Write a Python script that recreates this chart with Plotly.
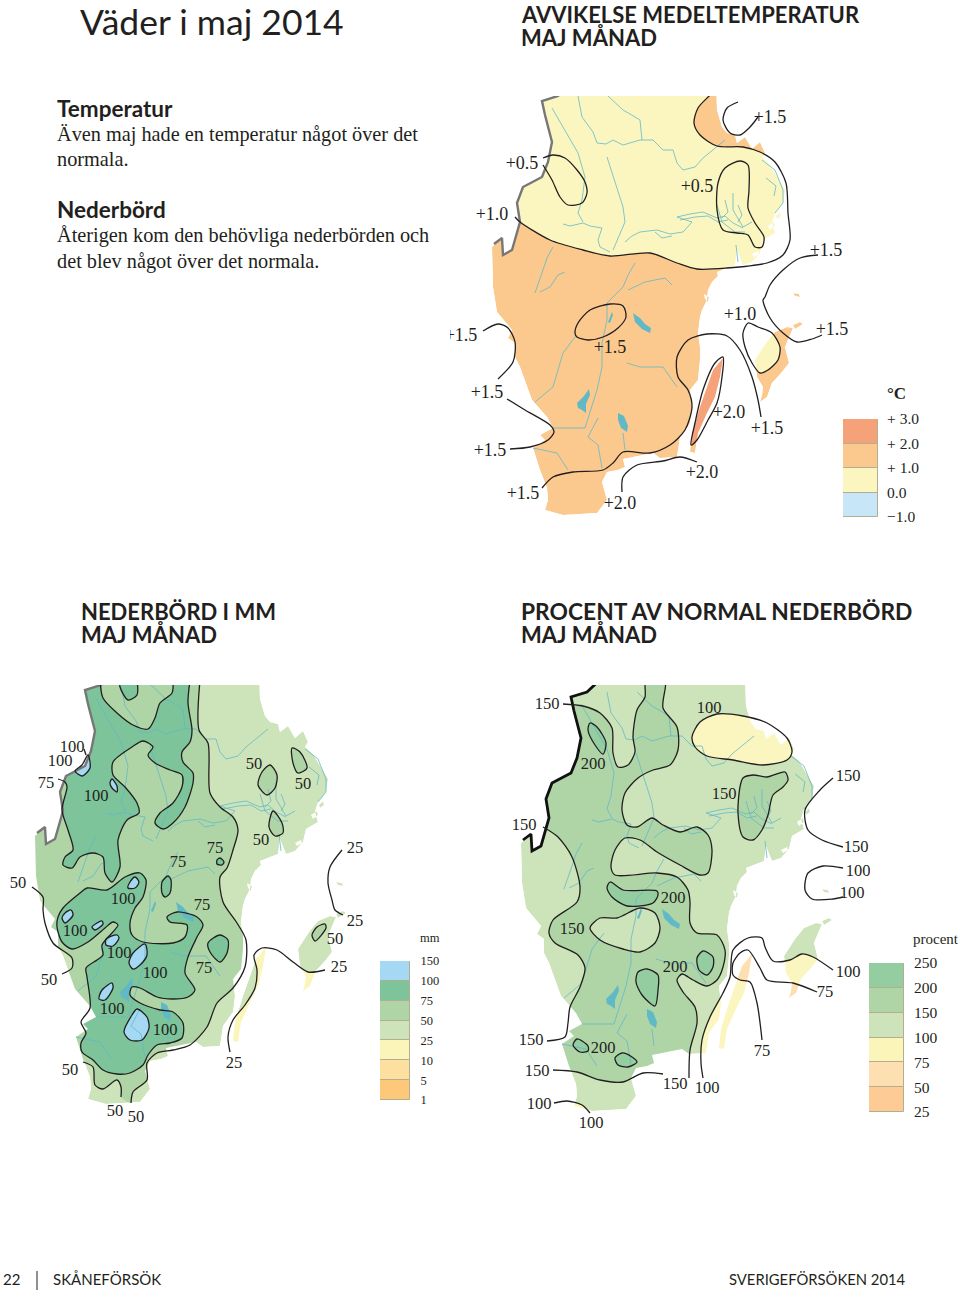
"""Väder i maj 2014: three maps of southern Sweden, temperature and rain."""

import plotly.graph_objects as go

W, H = 960, 1293

# colours
SALMON = "#F5A27A"
ORANGE = "#FBC98E"
YELLOW = "#FBF6C0"
SKY = "#C7E6F7"
BASE_GREEN = "#CDE4BB"
MID_GREEN = "#AFD5A6"
DARK_GREEN = "#7DC49A"
SOFT_GREEN = "#93CDA0"
BLUE = "#A5D8F2"
PEACH = "#FDDFB2"
RIVER = "#62B9C6"
INK = "#231F20"
BORDER_GREY = "#777777"

# geography, traced in the pixel frame of the top map
LAND = [(575, 80), (716, 80), (717, 110), (722, 127), (727, 133), (735, 135), (737, 143), (745, 137),
        (752, 149), (760, 142), (765, 153), (762, 158), (770, 165), (778, 178), (785, 190), (783, 203),
        (775, 213), (772, 223), (775, 233), (763, 240), (760, 253), (752, 262), (743, 265), (737, 250),
        (735, 265), (717, 272), (718, 276), (712, 282), (708, 290), (707, 300), (702, 310), (700, 317),
        (698, 333), (700, 347), (700, 360), (698, 380), (690, 390), (692, 407), (690, 423), (680, 437),
        (677, 457), (660, 458), (653, 453), (623, 459), (625, 467), (618, 470), (607, 472), (602, 482),
        (607, 500), (597, 513), (563, 515), (545, 510), (548, 500), (547, 488), (540, 470), (533, 448),
        (545, 440), (540, 435), (553, 428), (547, 417), (532, 400), (520, 367), (515, 357), (515, 343),
        (508, 338), (512, 330), (505, 322), (497, 312), (493, 287), (492, 247), (502, 238), (503, 255),
        (512, 250), (520, 222), (517, 203), (523, 187), (542, 177), (548, 162), (552, 142), (545, 115),
        (542, 101), (558, 96)]
GOTLAND = [(787, 327), (793, 328), (790, 335), (785, 347), (789, 363), (782, 372), (772, 383), (767, 397),
           (760, 402), (762, 395), (763, 387), (757, 377), (755, 360), (766, 343), (775, 332)]
FARO = [(793, 325), (800, 322), (803, 324), (795, 329)]
OLAND = [(723, 358), (720, 377), (715, 397), (707, 413), (698, 433), (695, 453), (690, 452), (692, 433),
         (700, 407), (707, 387), (713, 370)]
ISLETS = [
    [(793, 293), (799, 294), (800, 297), (795, 296)],
    [(752, 254), (758, 251), (759, 254), (754, 257)],
    [(768, 226), (774, 222), (775, 226), (770, 230)],
    [(776, 216), (780, 212), (781, 216), (777, 219)],
    [(704, 294), (709, 297), (708, 302), (705, 299)],
]
BORDER = [(575, 80), (558, 96), (542, 101), (545, 115), (552, 142), (548, 162), (542, 177), (523, 187),
          (517, 203), (520, 222), (512, 250), (503, 255), (502, 238), (494, 244)]
RIVERS = [
    [(552, 108), (563, 127), (578, 153), (585, 177), (582, 200), (578, 213), (583, 222)],
    [(563, 224), (570, 226), (583, 223), (590, 226), (602, 228), (598, 240), (600, 247), (610, 252)],
    [(578, 96), (582, 117), (593, 132), (597, 143), (606, 144), (613, 140), (623, 145), (640, 140), (653, 140),
     (663, 150), (673, 150), (677, 163), (683, 170), (695, 167), (703, 158), (713, 150), (725, 140)],
    [(608, 96), (623, 110), (630, 114), (640, 120), (642, 140)],
    [(607, 157), (617, 187), (623, 207), (625, 222), (619, 236), (613, 250)],
    [(677, 217), (690, 214), (703, 212), (717, 218), (725, 216), (733, 223), (743, 228)],
    [(680, 220), (695, 217), (708, 216), (718, 222), (728, 220)],
    [(733, 193), (733, 210), (743, 227), (752, 222)],
    [(717, 205), (722, 222), (735, 232), (745, 232)],
    [(725, 200), (728, 212), (722, 218)],
    [(738, 205), (742, 215), (738, 222)],
    [(625, 242), (632, 236), (640, 232), (657, 230), (670, 234), (683, 232), (692, 222), (677, 217)],
    [(655, 232), (662, 238), (672, 236)],
    [(762, 160), (775, 170), (783, 190), (783, 203), (775, 213)],
    [(766, 178), (776, 186), (774, 196)],
    [(736, 245), (738, 262)],
    [(553, 247), (547, 258), (543, 270), (535, 293)],
    [(565, 272), (558, 275), (550, 287), (540, 292)],
    [(635, 263), (628, 275), (623, 287), (607, 303), (607, 320), (602, 343), (602, 367), (597, 390), (585, 428), (553, 428)],
    [(628, 290), (645, 282), (665, 278), (672, 285)],
    [(575, 337), (563, 353), (553, 387), (535, 402)],
    [(627, 363), (640, 367), (663, 367), (677, 387)],
    [(598, 418), (588, 437), (598, 445), (602, 468)],
    [(533, 448), (557, 453), (568, 470)],
    [(623, 433), (625, 450)],
]
LAKES = [
    [(633, 313), (640, 318), (645, 324), (651, 328), (650, 333), (642, 329), (635, 322)],
    [(618, 413), (624, 416), (628, 426), (627, 432), (621, 428), (618, 420)],
    [(577, 403), (584, 396), (589, 389), (590, 395), (586, 404), (586, 413), (582, 410), (578, 408)],
    [(608, 322), (612, 312), (613, 315), (610, 323)],
]

# top map, mean temperature deviation
T_10_NORTH = [(515, 217), (520, 222), (550, 240), (583, 250), (610, 256), (650, 253), (677, 263), (697, 269),
              (727, 268), (767, 263), (783, 255), (790, 240), (788, 213), (786, 183), (775, 162), (760, 152),
              (743, 147), (717, 146), (700, 135), (694, 123), (698, 108), (709, 96), (716, 88)]
T_05_WEST = [(543, 158), (553, 155), (565, 158), (577, 170), (585, 182), (587, 193), (582, 203), (568, 205),
             (560, 197), (552, 180), (543, 165)]
T_05_EAST = [(740, 161), (748, 165), (749, 190), (748, 208), (755, 223), (764, 237), (762, 247), (755, 247),
             (748, 235), (737, 233), (723, 230), (717, 210), (718, 183), (725, 168)]
T_15_NE = [(738, 102), (727, 108), (723, 120), (730, 133), (740, 135), (750, 127), (758, 117)]
T_15_EAST = [(818, 255), (800, 258), (783, 270), (770, 285), (765, 297), (763, 300), (770, 318), (783, 333),
             (797, 342), (812, 339), (822, 335)]
T_10_GOTLAND = [(748, 323), (758, 327), (772, 333), (780, 347), (778, 360), (768, 370), (760, 373), (752, 363),
                (745, 347), (743, 333)]
T_15_LOOP = [(575, 333), (578, 323), (590, 310), (610, 304), (623, 306), (626, 317), (618, 328), (603, 337),
             (588, 340), (577, 337)]
T_15_WEST = [(483, 331), (498, 324), (508, 328), (515, 342), (513, 362), (498, 379)]
T_15_SW = [(507, 399), (525, 410), (550, 425), (554, 432), (548, 440), (530, 447), (510, 449)]
T_20_MAIN = [(542, 488), (553, 477), (573, 472), (603, 470), (613, 463), (623, 452), (650, 453), (670, 445),
             (685, 430), (692, 407), (688, 390), (678, 377), (677, 357), (688, 340), (707, 334), (727, 336),
             (740, 350), (752, 377), (758, 400), (761, 417)]
T_20_OLAND = [(723, 357), (715, 363), (703, 390), (695, 423), (691, 445), (697, 440), (708, 420), (717, 403),
              (722, 377)]
T_20_SOUTH = [(622, 492), (623, 477), (637, 465), (663, 461), (680, 457), (697, 462)]
T_LABELS = ["+0.5", "+0.5", "+1.0", "+1.5", "+1.5", "+1.5", "+1.5", "+1.0", "+1.5", "+1.5", "+2.0", "+1.5",
            "+1.5", "+2.0", "+1.5", "+2.0"]
T_LABEL_X = [522, 697, 492, 770, 826, 461, 610, 740, 832, 487, 729, 767, 490, 702, 523, 620]
T_LABEL_Y = [163, 186, 214, 117, 250, 335, 347, 314, 329, 392, 412, 428, 450, 472, 493, 503]

# left map, rain in mm
R_50_EAST = [(200, 680), (199, 730), (208, 743), (210, 793), (220, 807), (233, 817), (238, 830), (233, 850),
             (227, 868), (220, 877), (223, 902), (237, 923), (246, 940), (245, 967), (233, 988), (217, 1003),
             (207, 1027), (190, 1045), (173, 1050), (157, 1053), (147, 1063), (147, 1080), (133, 1092), (131, 1103)]
R_50_WEST = [(32, 887), (43, 897), (43, 910), (45, 923), (53, 943), (72, 958), (72, 968), (62, 974)]
R_50_SOUTH = [(83, 1062), (93, 1067), (95, 1085), (103, 1089), (117, 1080), (121, 1087), (121, 1097)]
R_75_NORTH = [(190, 680), (188, 703), (192, 730), (190, 742), (182, 752), (183, 762), (193, 773), (193, 783),
              (185, 807), (173, 823), (163, 829), (155, 823), (160, 813), (173, 803), (182, 787), (182, 775),
              (170, 770), (155, 763), (148, 755), (153, 747), (143, 741), (132, 747), (113, 762), (113, 775),
              (125, 787), (137, 803), (139, 813), (127, 820), (118, 840), (120, 867), (112, 882), (105, 873),
              (103, 857), (93, 853), (80, 857), (72, 868), (63, 865), (65, 857), (73, 850), (68, 830),
              (62, 810), (67, 787), (65, 782), (58, 779)]
R_75_TOPLOBE = [(100, 680), (103, 698), (117, 713), (133, 725), (148, 729), (155, 718), (160, 703), (172, 693),
                (173, 680)]
R_100_TOP = [(120, 680), (120, 687), (128, 700), (137, 695), (137, 680)]
R_75_SOUTH = [(63, 908), (80, 893), (87, 888), (107, 890), (125, 877), (140, 873), (146, 880), (143, 897),
              (135, 908), (130, 923), (132, 935), (143, 942), (173, 943), (185, 937), (187, 925), (170, 922),
              (167, 917), (177, 912), (197, 917), (203, 925), (197, 937), (188, 957), (185, 973), (195, 990),
              (188, 997), (173, 999), (157, 997), (140, 988), (132, 987), (130, 995), (140, 1003), (160, 1010),
              (173, 1012), (183, 1023), (182, 1038), (170, 1043), (157, 1045), (148, 1055), (143, 1065),
              (130, 1073), (117, 1074), (103, 1070), (93, 1060), (82, 1052), (81, 1043), (86, 1033), (81, 1022),
              (90, 1008), (87, 977), (86, 968), (97, 960), (103, 955), (102, 945), (118, 925), (113, 922),
              (105, 928), (88, 942), (72, 949), (62, 942), (57, 927), (58, 917)]
R_DARK_BLOBS = [
    [(168, 876), (171, 880), (170, 893), (165, 897), (162, 893), (162, 882)],
    [(220, 858), (224, 862), (222, 865), (217, 864), (217, 860)],
    [(220, 935), (228, 940), (227, 953), (220, 962), (210, 952), (208, 943)],
]
R_MID_BLOBS = [
    [(270, 765), (277, 775), (275, 788), (267, 795), (258, 785), (262, 772)],
    [(292, 748), (300, 752), (307, 768), (298, 773), (293, 763)],
    [(273, 811), (282, 823), (283, 833), (275, 836), (269, 827)],
    [(325, 924), (326, 928), (315, 941), (312, 935), (317, 927)],
]
R_BLUE_BLOBS = [
    [(88, 755), (90, 768), (82, 776), (75, 771), (82, 765)],
    [(112, 779), (117, 786), (117, 792), (112, 788), (110, 783)],
    [(135, 877), (139, 882), (135, 888), (128, 888), (130, 882)],
    [(71, 910), (73, 915), (65, 923), (62, 918), (65, 913)],
    [(102, 921), (103, 924), (95, 930), (92, 927), (97, 923)],
    [(117, 935), (119, 938), (113, 946), (106, 945), (106, 939)],
    [(145, 944), (147, 955), (140, 965), (133, 969), (129, 963), (133, 953)],
    [(112, 983), (113, 988), (105, 1000), (99, 999), (102, 990)],
    [(137, 1009), (147, 1017), (149, 1028), (142, 1040), (130, 1040), (124, 1032), (132, 1015)],
]
R_25_LOWER = [(230, 1052), (228, 1037), (233, 1020), (245, 1005), (255, 988), (257, 970), (254, 955), (262, 948),
              (277, 950), (293, 962), (308, 972), (325, 970)]
R_25_UPPER = [(342, 850), (330, 867), (328, 883), (332, 900), (335, 910), (343, 915)]
R_LEADER = [(86, 755), (84, 749)]
R_LABELS = ["100", "100", "75", "100", "50", "50", "50", "75", "75", "25", "50", "100", "75", "100", "100", "100",
            "75", "25", "50", "25", "50", "100", "100", "50", "25", "50", "50"]
R_LABEL_X = [72, 60, 46, 96, 254, 303, 261, 215, 178, 355, 18, 123, 202, 75, 119, 155, 204, 355, 335, 339, 49, 112,
             165, 70, 234, 115, 136]
R_LABEL_Y = [747, 761, 783, 796, 764, 784, 840, 848, 862, 848, 883, 899, 905, 931, 953, 973, 968, 921, 939, 967,
             980, 1009, 1030, 1070, 1063, 1111, 1117]

# right map, percent of normal rain
P_150_NORTH = [(563, 704), (583, 706), (600, 713), (612, 728), (613, 753), (618, 767), (628, 765), (635, 752),
               (633, 737), (637, 710), (645, 697), (646, 680), (665, 680), (663, 708), (677, 727), (678, 750),
               (670, 765), (653, 770), (638, 778), (625, 793), (622, 810), (627, 825), (637, 827), (652, 818),
               (663, 825), (680, 832), (697, 827), (708, 835), (712, 850), (708, 873), (700, 875), (680, 865),
               (657, 852), (640, 840), (625, 838), (615, 850), (611, 867), (615, 875), (657, 873), (677, 877),
               (688, 890), (690, 902), (690, 923), (697, 933), (717, 935), (725, 950), (723, 967), (717, 980),
               (707, 986), (693, 980), (682, 974), (677, 980), (683, 992), (695, 1007), (697, 1023), (690, 1050),
               (689, 1078)]
P_150_WEST = [(543, 827), (558, 837), (572, 857), (580, 887), (577, 902), (553, 920), (549, 933), (555, 943),
              (578, 955), (585, 968), (580, 987), (570, 1007), (568, 1023), (565, 1037), (547, 1041)]
P_150_SOUTH = [(553, 1070), (577, 1072), (600, 1080), (623, 1082), (643, 1073), (663, 1074)]
P_150_LOOP = [(590, 928), (600, 918), (617, 918), (640, 908), (655, 913), (660, 928), (655, 943), (640, 952),
              (623, 949), (600, 940)]
P_150_EAST = [(743, 778), (753, 775), (767, 777), (785, 772), (788, 780), (783, 787), (773, 795), (768, 815),
              (762, 830), (753, 840), (743, 837), (738, 813), (740, 787)]
P_DARK_BLOBS = [
    [(590, 723), (597, 727), (606, 743), (603, 754), (595, 745), (588, 730)],
    [(610, 882), (623, 890), (657, 891), (658, 895), (653, 903), (627, 906), (612, 897), (607, 888)],
    [(647, 969), (658, 975), (658, 990), (655, 1006), (642, 995), (636, 982), (638, 972)],
    [(703, 951), (713, 957), (713, 967), (707, 975), (699, 970), (697, 958)],
    [(577, 1039), (588, 1046), (588, 1051), (580, 1052), (573, 1045)],
    [(622, 1053), (632, 1057), (637, 1062), (628, 1067), (618, 1065), (615, 1058)],
]
P_100_YELLOW = [(717, 714), (743, 716), (767, 723), (787, 738), (792, 752), (787, 760), (763, 765), (733, 760),
                (707, 756), (695, 747), (692, 737), (700, 722)]
P_100_MAIN = [(833, 970), (813, 957), (802, 954), (790, 960), (773, 961), (765, 947), (762, 938), (748, 938),
              (733, 950), (730, 977), (723, 993), (710, 1017), (702, 1040), (701, 1063), (703, 1078)]
P_75_MAIN = [(817, 992), (793, 983), (767, 980), (760, 968), (748, 950), (740, 953), (733, 963), (733, 975),
             (740, 980), (750, 982), (757, 1003), (762, 1040)]
P_100_LOOP = [(843, 868), (823, 866), (808, 873), (805, 890), (812, 899), (833, 899), (843, 897)]
P_150_SEA = [(833, 778), (820, 790), (805, 810), (808, 830), (822, 840), (843, 847)]
P_100_TIP = [(554, 1103), (567, 1101), (582, 1105), (590, 1113)]
P_LABELS = ["150", "100", "200", "150", "150", "150", "150", "100", "100", "200", "150", "200", "100", "75", "150",
            "200", "150", "75", "150", "100", "100", "100"]
P_LABEL_X = [547, 709, 593, 724, 848, 524, 856, 858, 852, 673, 572, 675, 848, 825, 531, 603, 537, 762, 675, 707,
             539, 591]
P_LABEL_Y = [704, 708, 764, 794, 776, 825, 847, 871, 893, 898, 929, 967, 972, 992, 1040, 1048, 1071, 1051, 1084,
             1088, 1104, 1123]

# legends, top band first
T_LEGEND_COLORS = [SALMON, ORANGE, YELLOW, SKY]
T_LEGEND_TICKS = ["+ 3.0", "+ 2.0", "+ 1.0", "0.0", "\u22121.0"]
R_LEGEND_COLORS = [BLUE, DARK_GREEN, MID_GREEN, BASE_GREEN, "#FBF5BA", "#FDE0A0", "#FDC87A"]
R_LEGEND_TICKS = ["150", "100", "75", "50", "25", "10", "5", "1"]
P_LEGEND_COLORS = [SOFT_GREEN, MID_GREEN, BASE_GREEN, "#FBF5BA", PEACH, "#FDCB96"]
P_LEGEND_TICKS = ["250", "200", "150", "100", "75", "50", "25"]

SERIF = "Liberation Serif"
SANS = "Lato"

fig = go.Figure()
axis_count = 0


def xs(pts):
    return [p[0] for p in pts]


def ys(pts):
    return [p[1] for p in pts]


def moved(pts, dx, dy):
    return [(x + dx, y + dy) for x, y in pts]


def closed(pts):
    return pts + [pts[0]]


def new_axes(left, right, top, bottom, xrange, yrange):
    """Make an axis pair placed by page pixels, hidden, and return its ids."""
    global axis_count
    axis_count += 1
    n = "" if axis_count == 1 else str(axis_count)
    fig.layout["xaxis" + n] = dict(domain=[left / W, right / W], range=xrange, visible=False, automargin=False,
                                   anchor="y" + n, fixedrange=True)
    fig.layout["yaxis" + n] = dict(domain=[1 - bottom / H, 1 - top / H], range=yrange, visible=False, automargin=False,
                                   anchor="x" + n, fixedrange=True)
    return "x" + n, "y" + n


def fill(ax, pts, color, smooth=True):
    fig.add_trace(go.Scatter(
        x=xs(pts), y=ys(pts), mode="lines", fill="toself", fillcolor=color, hoverinfo="skip",
        line=dict(width=0, color=color, shape="spline" if smooth else "linear", smoothing=0.8),
        xaxis=ax[0], yaxis=ax[1], showlegend=False,
    ))


def stroke(ax, pts, color=INK, width=1.3, smooth=True):
    fig.add_trace(go.Scatter(
        x=xs(pts), y=ys(pts), mode="lines", hoverinfo="skip",
        line=dict(width=width, color=color, shape="spline" if smooth else "linear", smoothing=0.8),
        xaxis=ax[0], yaxis=ax[1], showlegend=False,
    ))


def area(pts):
    return sum(a[0] * b[1] - b[0] * a[1] for a, b in zip(pts, pts[1:] + pts[:1]))


def add_geography(ax, dx, dy, land_color):
    for piece in [LAND, GOTLAND, FARO, OLAND] + ISLETS:
        fill(ax, closed(moved(piece, dx, dy)), land_color, smooth=False)


def add_sea_and_rivers(ax, dx, dy, border_color, border_width):
    """White sheet with land shaped holes, so zones stop at the coast."""
    frame = [(-500, -500), (1500, -500), (1500, 1800), (-500, 1800)]
    mx, my = xs(closed(frame)), ys(closed(frame))
    for piece in [LAND, GOTLAND, FARO, OLAND] + ISLETS:
        pts = moved(piece, dx, dy)
        if area(pts) * area(frame) > 0:
            pts = pts[::-1]
        pts = closed(pts)
        mx += [None] + xs(pts)
        my += [None] + ys(pts)
    fig.add_trace(go.Scatter(x=mx, y=my, mode="lines", fill="toself", fillcolor="white", hoverinfo="skip",
                             line=dict(width=0, color="white"), xaxis=ax[0], yaxis=ax[1], showlegend=False))
    for river in RIVERS:
        stroke(ax, moved(river, dx, dy), RIVER, 0.8, smooth=False)
    for lake in LAKES:
        fill(ax, closed(moved(lake, dx, dy)), RIVER, smooth=False)
    stroke(ax, moved(BORDER, dx, dy), border_color, border_width, smooth=False)


def add_labels(ax, texts, lx, ly, size):
    fig.add_trace(go.Scatter(
        x=lx, y=[v + 1 for v in ly], text=texts, mode="text", textposition="middle center", hoverinfo="skip",
        textfont=dict(family=SERIF, size=size, color=INK), xaxis=ax[0], yaxis=ax[1], showlegend=False,
    ))


def add_legend(left, right, top, bottom, colors, ticks, size, gap):
    n = len(colors)
    ax = new_axes(left, right, top, bottom, [-0.5, 0.5], [0, n])
    lay = "yaxis" + ax[1][1:]
    fig.layout[lay].update(
        visible=True, side="right", showgrid=False, zeroline=False, showline=False,
        tickmode="array", tickvals=list(range(n, -1, -1)), ticktext=ticks,
        ticks="outside", ticklen=gap, tickcolor="rgba(0,0,0,0)",
        tickfont=dict(family=SERIF, size=size, color=INK), anchor=ax[0],
    )
    for i, color in enumerate(colors):
        fig.add_trace(go.Bar(
            x=[0], y=[1], base=[n - 1 - i], width=[1], marker=dict(color=color, line=dict(color="#B3AD92", width=1)),
            xaxis=ax[0], yaxis=ax[1], showlegend=False, hoverinfo="skip",
        ))


# top map
ax1 = new_axes(450, 860, 96, 530, [450, 860], [530, 96])
add_geography(ax1, 0, 0, ORANGE)
fill(ax1, T_10_NORTH + [(720, 70), (480, 70), (480, 217)], YELLOW)
fill(ax1, closed(T_10_GOTLAND), YELLOW)
fill(ax1, closed(T_20_OLAND), SALMON)
add_sea_and_rivers(ax1, 0, 0, BORDER_GREY, 2.4)
for line in [T_10_NORTH, T_05_WEST, closed(T_05_EAST), T_15_NE, T_15_EAST, closed(T_10_GOTLAND),
             closed(T_15_LOOP), T_15_WEST, T_15_SW, T_20_MAIN, closed(T_20_OLAND), T_20_SOUTH]:
    stroke(ax1, line)
add_labels(ax1, T_LABELS, T_LABEL_X, T_LABEL_Y, 18)

# left map
R_DX, R_DY = -457, 589
ax2 = new_axes(0, 420, 685, 1140, [0, 420], [1140, 685])
add_geography(ax2, R_DX, R_DY, BASE_GREEN)
fill(ax2, R_50_EAST + R_50_SOUTH[::-1] + [(60, 1050), (50, 1020)] + R_50_WEST[::-1] + [(15, 870), (15, 680)], MID_GREEN)
fill(ax2, R_75_NORTH + [(48, 770), (45, 720), (70, 680)] + R_75_TOPLOBE, DARK_GREEN)
fill(ax2, R_100_TOP, DARK_GREEN)
fill(ax2, closed(R_75_SOUTH), DARK_GREEN)
for blob in R_DARK_BLOBS:
    fill(ax2, closed(blob), DARK_GREEN)
for blob in R_MID_BLOBS:
    fill(ax2, closed(blob), MID_GREEN)
for blob in R_BLUE_BLOBS:
    fill(ax2, closed(blob), BLUE)
fill(ax2, R_25_LOWER + [(340, 990), (340, 1070), (225, 1070)], "#FBF5BA")
add_sea_and_rivers(ax2, R_DX, R_DY, BORDER_GREY, 2.4)
for line in [R_50_EAST, R_50_WEST, R_50_SOUTH, R_75_NORTH, R_75_TOPLOBE, R_100_TOP, closed(R_75_SOUTH),
             R_25_LOWER, R_25_UPPER, R_LEADER]:
    stroke(ax2, line)
for blob in R_DARK_BLOBS + R_MID_BLOBS + R_BLUE_BLOBS:
    stroke(ax2, closed(blob))
add_labels(ax2, R_LABELS, R_LABEL_X, R_LABEL_Y, 16.5)

# right map
P_DX, P_DY = 29, 596
ax3 = new_axes(500, 870, 685, 1140, [500, 870], [1140, 685])
add_geography(ax3, P_DX, P_DY, BASE_GREEN)
fill(ax3, P_150_NORTH + P_150_SOUTH[::-1] + [(525, 1055)] + P_150_WEST[::-1] + [(520, 810), (520, 700), (555, 700)],
     MID_GREEN)
fill(ax3, closed(P_150_LOOP), BASE_GREEN)
fill(ax3, closed(P_150_EAST), MID_GREEN)
for blob in P_DARK_BLOBS:
    fill(ax3, closed(blob), SOFT_GREEN)
fill(ax3, closed(P_100_YELLOW), YELLOW)
fill(ax3, P_100_MAIN + [(703, 1110), (850, 1110), (850, 970)], YELLOW)
fill(ax3, P_75_MAIN + [(762, 1060), (825, 1060)], PEACH)
fill(ax3, P_100_TIP + [(590, 1125), (554, 1125)], YELLOW)
add_sea_and_rivers(ax3, P_DX, P_DY, "#111111", 2.8)
for line in [P_150_NORTH, P_150_WEST, P_150_SOUTH, closed(P_150_LOOP), closed(P_150_EAST), closed(P_100_YELLOW),
             P_100_MAIN, P_75_MAIN, P_100_LOOP, P_150_SEA, P_100_TIP]:
    stroke(ax3, line)
for blob in P_DARK_BLOBS:
    stroke(ax3, closed(blob))
add_labels(ax3, P_LABELS, P_LABEL_X, P_LABEL_Y, 16.5)

# legends
add_legend(843, 878, 419, 517, T_LEGEND_COLORS, T_LEGEND_TICKS, 15.5, 5)
add_legend(380, 410, 961, 1100, R_LEGEND_COLORS, R_LEGEND_TICKS, 12.5, 7)
add_legend(869, 904, 963, 1112, P_LEGEND_COLORS, P_LEGEND_TICKS, 15.5, 6)


def page_text(x, y, text, family=SANS, size=20, weight=400):
    fig.add_annotation(x=x / W, y=1 - y / H, xref="paper", yref="paper", text=text, showarrow=False,
                       xanchor="left", yanchor="middle", align="left", borderpad=0, borderwidth=0,
                       font=dict(family=family, size=size, color=INK, weight=weight))


page_text(80, 21.5, "Väder i maj 2014", size=35.5)
page_text(521, 14.5, "AVVIKELSE MEDELTEMPERATUR", size=22, weight=700)
page_text(521, 37, "MAJ MÅNAD", size=22, weight=700)
page_text(57, 108, "Temperatur", size=22.5, weight=700)
page_text(57, 134, "Även maj hade en temperatur något över det", SERIF, 20.3)
page_text(57, 159, "normala.", SERIF, 20.3)
page_text(57, 209, "Nederbörd", size=22.5, weight=700)
page_text(57, 235, "Återigen kom den behövliga nederbörden och", SERIF, 20.3)
page_text(57, 261, "det blev något över det normala.", SERIF, 20.3)
page_text(81, 611, "NEDERBÖRD I MM", size=22, weight=700)
page_text(81, 634, "MAJ MÅNAD", size=22, weight=700)
page_text(521, 611, "PROCENT AV NORMAL NEDERBÖRD", size=22.8, weight=700)
page_text(521, 634, "MAJ MÅNAD", size=22, weight=700)
page_text(887, 394, "°C", SERIF, 17, 700)
page_text(420, 938, "mm", SERIF, 12.5)
page_text(913, 939, "procent", SERIF, 15)
page_text(3, 1279, "22", size=15)
page_text(53, 1279, "SKÅNEFÖRSÖK", size=15)
page_text(729, 1279, "SVERIGEFÖRSÖKEN 2014", size=14.8)
fig.add_shape(type="line", xref="paper", yref="paper", x0=37 / W, x1=37 / W, y0=1 - 1271 / H, y1=1 - 1290 / H,
              line=dict(color=INK, width=1))

fig.update_layout(
    width=W, height=H, margin=dict(l=0, r=0, t=0, b=0, autoexpand=False), paper_bgcolor="white",
    plot_bgcolor="rgba(0,0,0,0)", barmode="overlay", bargap=0, showlegend=False,
)

fig.write_html("out.html", config={"displayModeBar": False}, post_script="document.body.style.margin='0';")
